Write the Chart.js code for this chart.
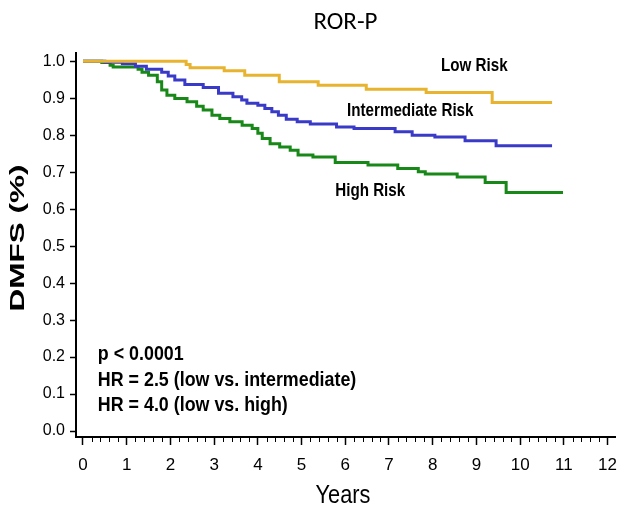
<!DOCTYPE html>
<html>
<head>
<meta charset="utf-8">
<script src="https://cdn.jsdelivr.net/npm/chart.js@4.4.1/dist/chart.umd.min.js"></script>
<style>
  html, body { margin: 0; padding: 0; background: #fff; }
  #wrap { width: 619px; height: 509px; }
</style>
</head>
<body>
<div id="wrap"><canvas id="kmChart" width="619" height="509"></canvas></div>
<script>
// step times (years) and survival after each step
const lowYears = [0, 2.36, 2.45, 3.23, 3.7, 4.49, 5.38, 6.48, 7.85, 9.36, 10.73];
const lowSurv  = [1.0, 0.991, 0.982, 0.974, 0.962, 0.944, 0.935, 0.924, 0.915, 0.888, 0.888];

const midYears = [0, 0.5, 0.9, 1.2, 1.45, 1.8, 1.95, 2.1, 2.33, 2.75, 3.1, 3.43, 3.63, 3.75, 4.0, 4.16,
  4.32, 4.47, 4.65, 4.9, 5.2, 5.8, 6.2, 7.14, 7.53, 8.05, 8.74, 9.45, 10.73];
const midSurv  = [1.0, 0.997, 0.993, 0.986, 0.978, 0.970, 0.960, 0.949, 0.937, 0.929, 0.913, 0.904, 0.895, 0.886, 0.881, 0.872,
  0.863, 0.854, 0.843, 0.836, 0.830, 0.822, 0.818, 0.809, 0.800, 0.795, 0.785, 0.771, 0.771];

const highYears = [0, 0.43, 0.62, 0.69, 1.26, 1.35, 1.5, 1.7, 1.8, 1.92, 2.1, 2.38, 2.6, 2.75, 2.95, 3.13, 3.36,
  3.64, 3.87, 4.0, 4.1, 4.28, 4.5, 4.74, 4.92, 5.26, 5.77, 6.52, 7.2, 7.67, 7.83, 8.56, 9.2, 9.68, 10.98];
const highSurv  = [1.0, 0.996, 0.989, 0.984, 0.978, 0.970, 0.962, 0.944, 0.922, 0.908, 0.899, 0.890, 0.878, 0.868, 0.854, 0.845, 0.836,
  0.827, 0.818, 0.805, 0.791, 0.777, 0.768, 0.759, 0.746, 0.741, 0.726, 0.719, 0.710, 0.701, 0.695, 0.687, 0.672, 0.645, 0.645];

const xTicks = [0, 1, 2, 3, 4, 5, 6, 7, 8, 9, 10, 11, 12];
const yTicks = [0, 0.1, 0.2, 0.3, 0.4, 0.5, 0.6, 0.7, 0.8, 0.9, 1.0];

const groupLabels = ['Low Risk', 'Intermediate Risk', 'High Risk'];
const statLines = ['p < 0.0001', 'HR = 2.5 (low vs. intermediate)', 'HR = 4.0 (low vs. high)'];

const SANS = "'Liberation Sans', Arial, sans-serif";

const toPoints = (xs, ys) => xs.map((x, i) => ({ x: x, y: ys[i] }));

// where the text labels sit, in data units
const groupAnchors = [[8.19, 0.986], [6.04, 0.865], [5.77, 0.649]];
const statAnchors = [[0.34, 0.208], [0.34, 0.138], [0.34, 0.07]];

function drawText(ctx, text, x, y, font, sx, align) {
  ctx.save();
  ctx.translate(x, y);
  ctx.scale(sx, 1);
  ctx.font = font;
  ctx.fillStyle = '#000';
  ctx.textAlign = align || 'left';
  ctx.textBaseline = 'middle';
  ctx.fillText(text, 0, 0);
  ctx.restore();
}

const decor = {
  id: 'kmDecor',
  afterDraw(chart) {
    const ctx = chart.ctx;
    const xs = chart.scales.x;
    const ys = chart.scales.y;
    const bottom = chart.chartArea.bottom;

    // minor ticks every 0.2 year
    ctx.save();
    ctx.strokeStyle = '#000';
    ctx.lineWidth = 1;
    for (let i = 0; i <= 60; i++) {
      if (i % 5 === 0) continue;
      const px = Math.round(xs.getPixelForValue(i / 5)) + 0.5;
      ctx.beginPath();
      ctx.moveTo(px, bottom);
      ctx.lineTo(px, bottom + 5);
      ctx.stroke();
    }
    ctx.restore();

    // axis titles
    ctx.save();
    ctx.translate(18, 238);
    ctx.rotate(-Math.PI / 2);
    ctx.scale(1.5, 1);
    ctx.font = 'bold 21px ' + SANS;
    ctx.fillStyle = '#000';
    ctx.textAlign = 'center';
    ctx.textBaseline = 'middle';
    ctx.fillText('DMFS (%)', 0, 0);
    ctx.restore();

    drawText(ctx, 'Years', 343, 496, '25px ' + SANS, 0.87, 'center');

    groupLabels.forEach((t, i) => {
      const a = groupAnchors[i];
      drawText(ctx, t, xs.getPixelForValue(a[0]), ys.getPixelForValue(a[1]), 'bold 18.5px ' + SANS, 0.82);
    });
    statLines.forEach((t, i) => {
      const a = statAnchors[i];
      drawText(ctx, t, xs.getPixelForValue(a[0]), ys.getPixelForValue(a[1]), 'bold 21px ' + SANS, 0.85);
    });
  }
};

new Chart(document.getElementById('kmChart').getContext('2d'), {
  type: 'line',
  data: {
    datasets: [
      { label: 'Low Risk', data: toPoints(lowYears, lowSurv), borderColor: 'rgb(232, 180, 48)' },
      { label: 'Intermediate Risk', data: toPoints(midYears, midSurv), borderColor: 'rgb(58, 58, 200)' },
      { label: 'High Risk', data: toPoints(highYears, highSurv), borderColor: 'rgb(24, 136, 24)' }
    ].map((d) => Object.assign(d, {
      stepped: true,
      borderWidth: 3,
      pointRadius: 0,
      fill: false,
      tension: 0
    }))
  },
  options: {
    responsive: false,
    animation: false,
    layout: { padding: { left: 0, right: 4, top: 0, bottom: 0 } },
    plugins: {
      legend: { display: false },
      tooltip: { enabled: false },
      title: {
        display: true,
        text: 'ROR-P',
        fullSize: false,
        color: '#000',
        font: { family: "Carlito, Calibri, Lato, 'Open Sans', sans-serif", size: 25, weight: 'normal', lineHeight: 1.2 },
        padding: { top: 8, bottom: 15 }
      }
    },
    scales: {
      x: {
        type: 'linear',
        min: -0.16,
        max: 12.17,
        afterFit: (s) => { s.height = 72; s.paddingLeft = 0; s.paddingRight = 0; },
        afterBuildTicks: (s) => { s.ticks = xTicks.map((v) => ({ value: v })); },
        grid: { drawOnChartArea: false, drawTicks: true, tickLength: 8, tickColor: '#000', tickWidth: 1.5 },
        border: { display: true, color: '#000', width: 2 },
        ticks: {
          color: '#000',
          padding: 10,
          maxRotation: 0,
          autoSkip: false,
          font: { family: SANS, size: 17 },
          callback: (v) => String(v)
        }
      },
      y: {
        type: 'linear',
        min: -0.016,
        max: 1.022,
        afterFit: (s) => { s.width = 76; s.paddingTop = 0; s.paddingBottom = 0; },
        afterBuildTicks: (s) => { s.ticks = yTicks.map((v) => ({ value: v })); },
        grid: { drawOnChartArea: false, drawTicks: true, tickLength: 6, tickColor: '#000', tickWidth: 1.5 },
        border: { display: true, color: '#000', width: 2 },
        ticks: {
          color: '#000',
          padding: 5,
          autoSkip: false,
          font: { family: SANS, size: 16 },
          callback: (v) => Number(v).toFixed(1)
        }
      }
    }
  },
  plugins: [decor]
});
</script>
</body>
</html>
